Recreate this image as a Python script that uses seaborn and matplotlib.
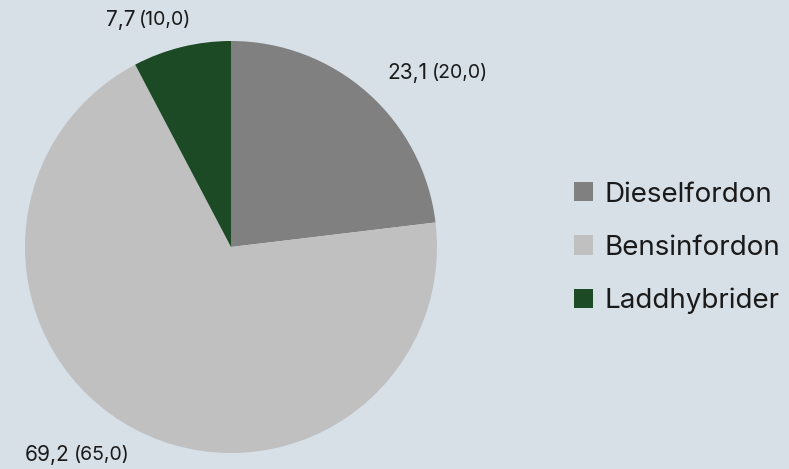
import matplotlib
matplotlib.use("Agg")
import matplotlib.pyplot as plt
import seaborn as sns
from matplotlib.patches import Patch

categories = ["Dieselfordon", "Bensinfordon", "Laddhybrider"]
values = [23.1, 69.2, 7.7]
ref_values = [20.0, 65.0, 10.0]
colors = ["#808080", "#c0c0c0", "#1c4a24"]

BG = "#d7dfe7"
sns.set_theme(style="white")
plt.rcParams["font.family"] = ["Inter", "DejaVu Sans"]

fig = plt.figure(figsize=(7.89, 4.69), dpi=100, facecolor=BG)
ax = fig.add_axes([25/789, 16/469, 412/789, 412/469])
ax.set_facecolor(BG)

wedges, _ = ax.pie(values, colors=colors, startangle=90, counterclock=False,
                   radius=1.0, wedgeprops=dict(linewidth=0))
ax.set_xlim(-1, 1)
ax.set_ylim(-1, 1)
ax.set_aspect("equal")
ax.axis("off")

def fmt(v):
    return f"{v:.1f}".replace(".", ",")

# label anchor (split point between main value and reference value), in data coords
label_pos = [(0.966, 0.845), (-0.772, -1.01), (-0.456, 1.102)]
for v, r, (x, y) in zip(values, ref_values, label_pos):
    ax.text(x - 0.01, y, fmt(v), ha="right", va="center", fontsize=15,
            color="#1a1a1a", clip_on=False)
    ax.text(x + 0.01, y, f"({fmt(r)})", ha="left", va="center", fontsize=14,
            color="#1a1a1a", clip_on=False)

handles = [Patch(facecolor=c, edgecolor="none", label=l) for c, l in zip(colors, categories)]
leg = fig.legend(handles=handles, loc="center left", bbox_to_anchor=(563/789, 1 - 248/469),
                 frameon=False, fontsize=20, handlelength=0.68, handleheight=0.68,
                 handletextpad=0.4, labelspacing=0.98, borderaxespad=0)
for t in leg.get_texts():
    t.set_color("#1a1a1a")

fig.savefig("out.png", dpi=100, facecolor=BG)
